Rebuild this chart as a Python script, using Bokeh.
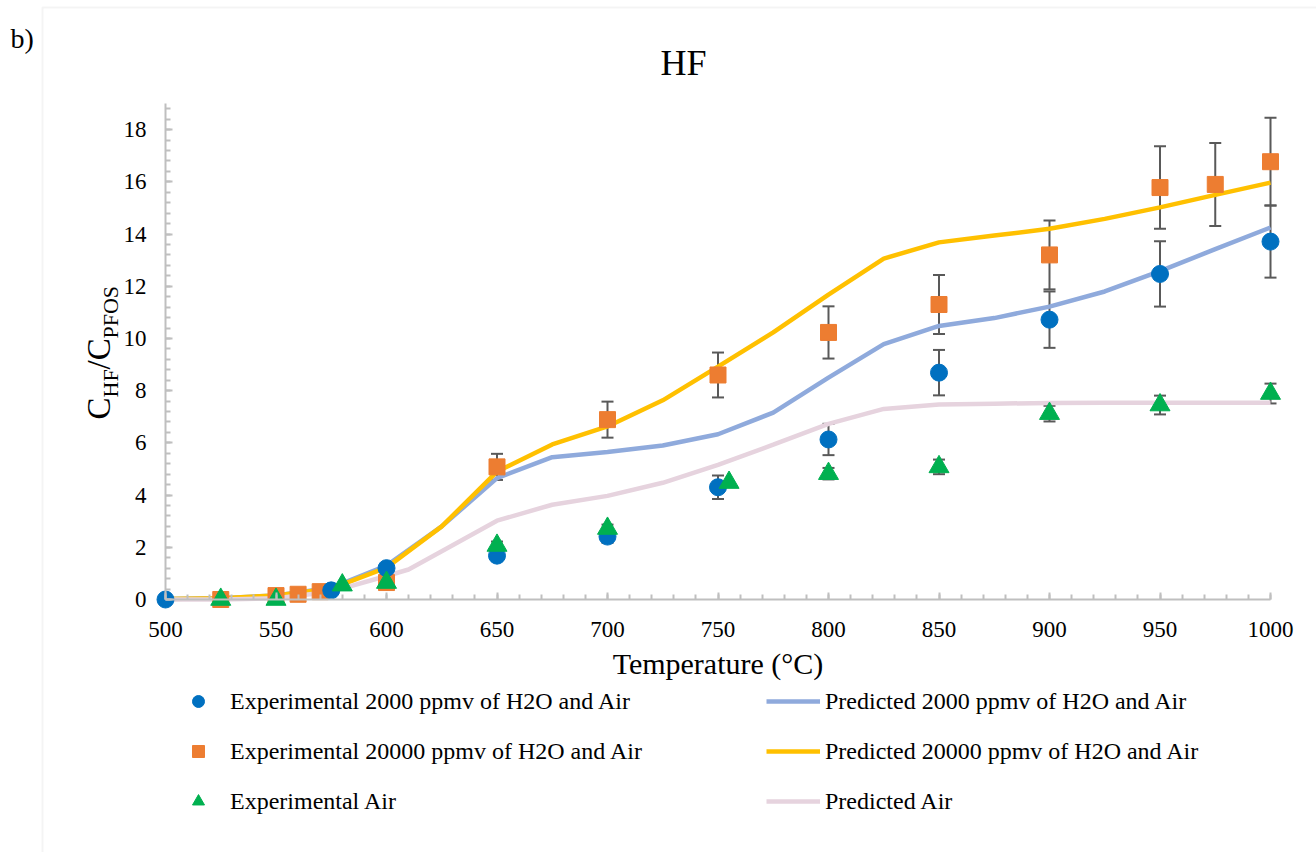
from bokeh.plotting import figure
from bokeh.models import (ColumnDataSource, Whisker, TeeHead, Legend, LegendItem,
                          Label, BoxAnnotation, FixedTicker, Range1d)
from bokeh.embed import file_html
from bokeh.resources import INLINE
import numpy as np

# ---------------- data ----------------
exp2000_t = [500, 575, 600, 650, 700, 750, 800, 850, 900, 950, 1000]
exp2000_v = [0.0, 0.35, 1.2, 1.68, 2.41, 4.3, 6.13, 8.69, 10.72, 12.47, 13.71]
exp2000_e = [0.0, 0.0, 0.1, 0.17, 0.24, 0.45, 0.6, 0.87, 1.08, 1.25, 1.38]

exp20000_t = [525, 550, 560, 570, 600, 650, 700, 750, 800, 850, 900, 950, 975, 1000]
exp20000_v = [0.0, 0.15, 0.2, 0.3, 0.65, 5.08, 6.89, 8.6, 10.23, 11.3, 13.2, 15.78, 15.9, 16.77]
exp20000_e = [0.0, 0.0, 0.0, 0.0, 0.0, 0.5, 0.69, 0.86, 1.0, 1.13, 1.32, 1.58, 1.59, 1.68]

expair_t = [525, 550, 580, 600, 650, 700, 755, 800, 850, 900, 950, 1000]
expair_v = [0.0, 0.0, 0.55, 0.65, 2.07, 2.72, 4.48, 4.82, 5.08, 7.12, 7.45, 7.89]
expair_e = [0.0, 0.0, 0.0, 0.0, 0.15, 0.15, 0.0, 0.22, 0.28, 0.3, 0.36, 0.38]

pred_t = [500, 525, 550, 575, 600, 625, 650, 675, 700, 725, 750, 775, 800, 825,
          850, 875, 900, 925, 950, 975, 1000]
pred2000_v = [0.02, 0.05, 0.15, 0.45, 1.3, 2.8, 4.65, 5.45, 5.65, 5.9, 6.33, 7.16,
              8.5, 9.78, 10.48, 10.78, 11.22, 11.8, 12.58, 13.42, 14.25]
pred20000_v = [0.02, 0.05, 0.15, 0.42, 1.22, 2.8, 4.9, 5.94, 6.63, 7.63, 8.92, 10.23,
               11.68, 13.06, 13.68, 13.94, 14.2, 14.58, 15.02, 15.5, 15.97]

predair_t = [500, 525, 550, 575, 600, 610, 625, 650, 675, 700, 725, 750, 775, 800,
             825, 850, 875, 900, 925, 950, 975, 1000]
predair_v = [0.0, 0.0, 0.05, 0.3, 0.9, 1.15, 1.85, 3.02, 3.63, 3.97, 4.47, 5.16, 5.93,
             6.73, 7.3, 7.47, 7.5, 7.53, 7.54, 7.54, 7.54, 7.54]

x_major = list(range(500, 1001, 50))
x_minor = list(range(500, 1001, 10))
y_major = list(range(0, 19, 2))
y_minor = [round(v, 1) for v in np.arange(0, 19.01, 0.4)]

title_text = "HF"
panel_tag = "b)"
x_label = "Temperature (\u00b0C)"
names_exp = ["Experimental 2000 ppmv of H2O and Air",
             "Experimental 20000 ppmv of H2O and Air",
             "Experimental Air"]
names_pred = ["Predicted 2000 ppmv of H2O and Air",
              "Predicted 20000 ppmv of H2O and Air",
              "Predicted Air"]

FONT = "Liberation Serif"
AX = "#bfbfbf"
ERR = "#595959"

# --------------- layout (pixels) ---------------
W, H = 1316, 852
X0, X1, PX0, PX1 = 500, 1000, 165, 1270      # x axis span in data / pixels
Y0, Y1, PY0, PY1 = 0, 19, 599, 103           # y axis span in data / pixels
kx = (PX1 - PX0) / (X1 - X0)
ky = (PY0 - PY1) / (Y1 - Y0)
xr = Range1d(X0 - PX0 / kx, X0 + (W - PX0) / kx)
yr = Range1d(Y0 - (H - PY0) / ky, Y0 + PY0 / ky)

p = figure(width=W, height=H, output_backend="svg", toolbar_location=None,
           x_range=xr, y_range=yr, min_border=0)
p.outline_line_color = None
p.grid.grid_line_color = None
p.background_fill_color = "white"
p.border_fill_color = "white"

p.xaxis.fixed_location = Y0
p.yaxis.fixed_location = X0
p.xaxis.bounds = (X0, X1)
p.yaxis.bounds = (Y0, Y1)
p.xaxis.ticker = FixedTicker(ticks=x_major, minor_ticks=x_minor)
p.yaxis.ticker = FixedTicker(ticks=y_major, minor_ticks=y_minor)
for ax in (p.xaxis[0], p.yaxis[0]):
    ax.axis_line_color = AX
    ax.axis_line_width = 2
    ax.major_tick_line_color = AX
    ax.minor_tick_line_color = AX
    ax.major_tick_line_width = 2
    ax.minor_tick_line_width = 2
    ax.major_tick_in = 7
    ax.major_tick_out = 0
    ax.minor_tick_in = 5
    ax.minor_tick_out = 0
    ax.major_label_text_font = FONT
    ax.major_label_text_font_size = "23px"
    ax.major_label_text_color = "black"
p.yaxis.major_label_standoff = 19
p.xaxis.major_label_standoff = 22
p.xaxis.axis_label = x_label
p.xaxis.axis_label_text_font = FONT
p.xaxis.axis_label_text_font_size = "30px"
p.xaxis.axis_label_text_font_style = "normal"
p.xaxis.axis_label_text_color = "black"
p.xaxis.axis_label_standoff = 7

# predicted lines
l1 = p.line(pred_t, pred2000_v, line_color="#8FAADC", line_width=4.5)
l2 = p.line(pred_t, pred20000_v, line_color="#FFC000", line_width=4.5)
l3 = p.line(predair_t, predair_v, line_color="#E6D3DE", line_width=4.5)

# error bars
def add_err(t, v, e):
    tt = [a for a, c in zip(t, e) if c > 0]
    up = [b + c for b, c in zip(v, e) if c > 0]
    lo = [b - c for b, c in zip(v, e) if c > 0]
    src = ColumnDataSource(dict(base=tt, upper=up, lower=lo))
    w = Whisker(source=src, base="base", upper="upper", lower="lower",
                dimension="height", line_color=ERR, line_width=2,
                upper_head=TeeHead(size=12, line_color=ERR, line_width=2),
                lower_head=TeeHead(size=12, line_color=ERR, line_width=2))
    p.add_layout(w)

add_err(exp2000_t, exp2000_v, exp2000_e)
add_err(exp20000_t, exp20000_v, exp20000_e)
add_err(expair_t, expair_v, expair_e)

s2 = p.scatter(exp20000_t, exp20000_v, marker="square", size=16, color="#ED7D31")
s1 = p.scatter(exp2000_t, exp2000_v, marker="circle", size=17, color="#0070C0")
s3 = p.scatter(expair_t, expair_v, marker="triangle", size=20, color="#00B050")

# legends (screen units: frame == canvas, y measured from bottom)
def mk_legend(items, x, gw, standoff):
    lg = Legend(items=items, location=(x, H - 816), orientation="vertical",
                glyph_width=gw, glyph_height=30, label_height=30,
                spacing=20, padding=0, margin=0, label_standoff=standoff,
                label_text_font=FONT, label_text_font_size="24px",
                label_text_color="black",
                border_line_color=None, background_fill_alpha=0)
    p.add_layout(lg)

mk_legend([LegendItem(label=names_exp[0], renderers=[s1]),
           LegendItem(label=names_exp[1], renderers=[s2]),
           LegendItem(label=names_exp[2], renderers=[s3])], 183, 30, 17)
mk_legend([LegendItem(label=names_pred[0], renderers=[l1]),
           LegendItem(label=names_pred[1], renderers=[l2]),
           LegendItem(label=names_pred[2], renderers=[l3])], 766, 54, 5)

# title / tag / border
p.add_layout(Label(x=683, y=H - 62, x_units="screen", y_units="screen", text=title_text,
                   text_font=FONT, text_font_size="36px", text_align="center",
                   text_baseline="alphabetic", text_color="black"))
p.add_layout(Label(x=10, y=H - 38, x_units="screen", y_units="screen", text=panel_tag,
                   text_font=FONT, text_font_size="28px", text_align="left",
                   text_baseline="alphabetic", text_color="black"))
p.add_layout(BoxAnnotation(left=42, right=W + 50, top=H - 7, bottom=-50,
                           left_units="screen", right_units="screen",
                           top_units="screen", bottom_units="screen",
                           fill_alpha=0, line_color="#d9d9d9", line_width=2))

# y axis label with subscripts (rotated)
ang = np.pi / 2
for txt, sx, py, fs in [("C", 98, 419, "33px"), ("HF", 110, 397, "22px"),
                        ("/C", 98, 369, "33px"), ("PFOS", 110, 338, "22px")]:
    p.add_layout(Label(x=sx, y=H - py, x_units="screen", y_units="screen", text=txt,
                       angle=ang, text_font=FONT, text_font_size=fs,
                       text_align="left", text_baseline="alphabetic",
                       text_color="black"))

open("out.html", "w").write(file_html(p, INLINE))
